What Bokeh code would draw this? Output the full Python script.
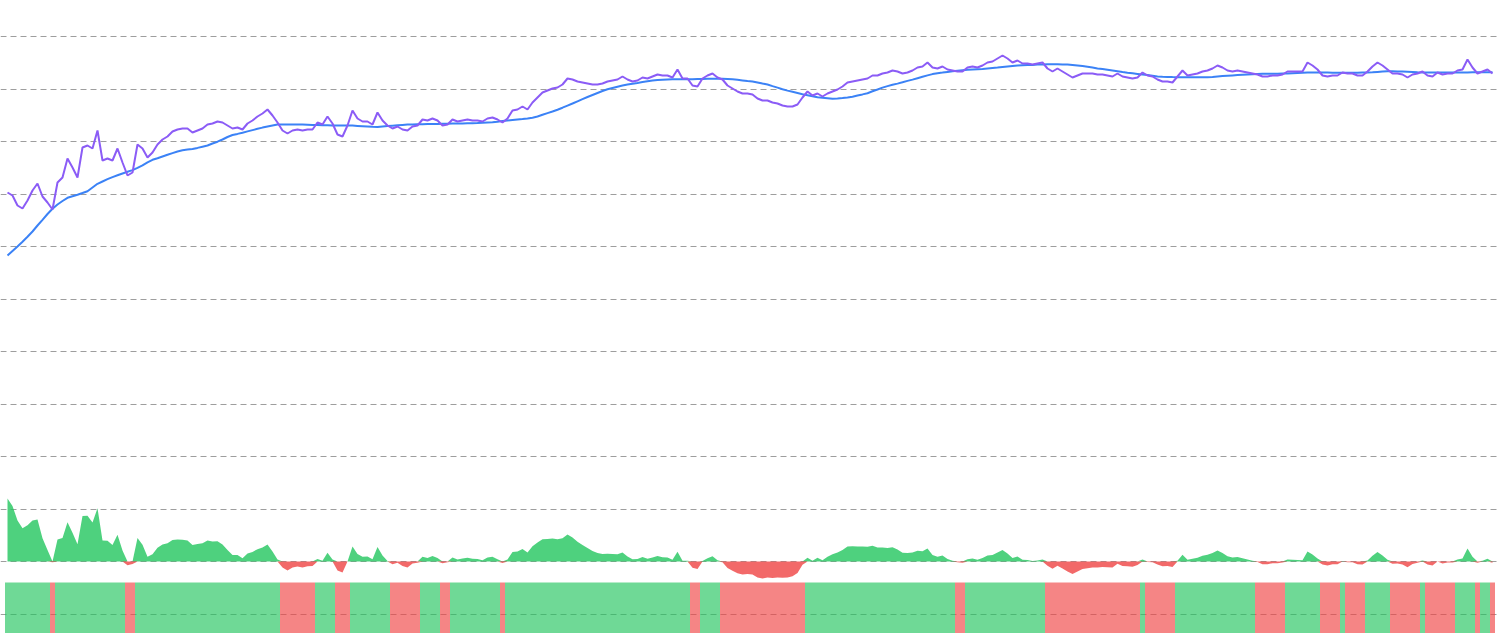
import numpy as np
from bokeh.plotting import figure
from bokeh.models import Range1d, FixedTicker, ColumnDataSource
from bokeh.embed import file_html
from bokeh.resources import INLINE

# ---------------- data (one sample per period) ----------------
PRICE = [
    108, 105, 95, 92, 100, 110, 117, 104, 98, 91,
    118, 123, 142, 133, 123, 153, 155, 152, 170, 140,
    142, 140, 152, 138, 125, 128, 156, 152, 143, 148,
    156, 161, 164, 169, 171, 172, 172, 168, 170, 172,
    176, 177, 179, 178, 175, 172, 173, 171, 177, 180,
    184, 187, 191, 185, 178, 170, 167, 170, 171, 170,
    171, 171, 178, 176, 184, 177, 166, 164, 175, 190,
    182, 179, 179, 176,
    188, 180, 175, 172, 174, 171, 170, 174, 175, 181,
    180, 182, 180, 175, 176, 181, 179, 180, 181, 180,
    180, 179, 182, 183, 181, 178, 182, 190, 191, 194,
    191, 198, 203, 208, 210, 212, 213, 216, 222, 221,
    219, 218, 217, 216, 216, 217, 219, 220, 221, 224,
    221, 219, 220, 223, 222, 224, 226, 225, 225, 223,
    231, 222, 222, 215, 214, 222, 225, 227, 223, 221,
    215, 212, 209, 207, 207,
    206, 202, 200, 200, 198, 197, 195, 194, 194, 196,
    203, 209, 205, 207, 204, 207, 209, 211, 214, 218,
    219, 220, 221, 222, 225, 225, 227, 228, 230, 229,
    227, 228, 230, 233, 234, 238, 233, 232, 234, 231,
    230, 229, 229, 233, 234, 233, 235, 238, 239, 242,
    245, 242, 238, 240, 237, 237, 236, 237, 238, 232,
    229, 232, 229, 226, 223, 225, 227, 227, 227, 226,
    226, 225, 224, 227, 224,
    223, 222, 223, 228, 225, 224, 221, 219, 219, 218,
    224, 230, 225, 226, 227, 229, 230, 232, 235, 233,
    230, 229, 230, 229, 228, 227, 226, 224, 224, 225,
    225, 226, 229, 229, 229, 229, 238, 235, 231, 225,
    224, 225, 225, 228, 227, 227, 225, 225, 229, 234,
    238, 235, 231, 227, 227, 226, 223, 226, 227, 229,
    225, 224, 228, 226, 227, 227, 230, 231, 241, 233,
    227, 229, 231, 227,
]

MA = [
    45, 49.5, 54, 58.7, 63.7, 69, 75, 80.7, 86.5, 91.7,
    96, 99.5, 102.7, 104.3, 105.8, 107.5, 109.3, 113, 116.7, 119,
    121.3, 123.4, 125.2, 127, 128.7, 130.4, 132.6, 135.2, 138.2, 140.7,
    142.3, 144, 145.7, 147.4, 149, 150.2, 150.9, 151.6, 152.6, 153.8,
    155, 157, 158.8, 161, 163.5, 165.5, 166.6, 167.8, 169.1, 170.4,
    171.7, 172.9, 174, 175, 176, 176, 176, 176, 176, 175.9,
    175.8, 175.6, 175.5, 175.3, 175.2, 175, 175, 175, 175, 174.9,
    174.6, 174.3, 174, 173.7,
    173.6, 174, 174.4, 174.8, 175.2, 175.6, 176, 176.1, 176.2, 176.3,
    176.4, 176.5, 176.6, 176.7, 176.8, 176.9, 177, 177.1, 177.2, 177.3,
    177.4, 177.7, 178, 178.3, 178.8, 179.4, 179.9, 180.4, 180.9, 181.4,
    182, 182.8, 184, 185.7, 187.4, 189, 190.8, 192.8, 194.9, 197,
    199.2, 201.4, 203.5, 205.5, 207.5, 209.5, 211.2, 212.5, 213.8, 215,
    216, 216.8, 217.6, 218.5, 219.3, 220, 220.6, 220.8, 221, 221.2,
    221.3, 221.3, 221.3, 221.3, 221.4, 221.5, 221.7, 221.7, 221.7, 221.7,
    221.6, 221.2, 220.8, 220.1, 219.4,
    218.9, 217.9, 216.9, 216, 214.4, 212.9, 211.3, 209.9, 208.7, 207.5,
    206.3, 205.3, 204.3, 203.3, 202.8, 202.3, 201.8, 202.1, 202.5, 203,
    203.8, 205, 206.1, 207.3, 209.2, 211, 212.9, 214.4, 215.7, 216.9,
    218.2, 219.6, 220.9, 222.3, 223.7, 225.1, 226.4, 227.3, 227.9, 228.6,
    229.2, 229.7, 230.2, 230.7, 231, 231.3, 231.6, 232.1, 232.6, 233,
    233.5, 234, 234.5, 235, 235.2, 235.4, 235.6, 235.9, 236, 236.2,
    236.3, 236.2, 236.1, 236, 235.5, 235, 234.4, 233.7, 232.9, 232.1,
    231.4, 230.7, 230, 229.3, 228.5,
    227.8, 227.2, 226.6, 226, 225.4, 224.8, 224.1, 223.8, 223.6, 223.4,
    223.3, 223.3, 223.3, 223.3, 223.3, 223.3, 223.3, 223.6, 224, 224.4,
    224.8, 225.1, 225.4, 225.7, 226, 226.3, 226.6, 226.7, 226.7, 226.7,
    226.7, 226.9, 227.1, 227.3, 227.5, 227.7, 228, 228, 227.9, 227.9,
    227.9, 227.8, 227.8, 227.8, 227.7, 227.7, 227.7, 227.9, 228.1, 228.2,
    228.6, 229, 229.3, 229.2, 229.1, 229, 228.8, 228.6, 228.3, 228.1,
    228, 228, 228, 228, 228, 228, 228.1, 228.1, 228.1, 228.2,
    228.2, 228.2, 228.3, 228.3,
]

assert len(PRICE) == len(MA)

# ---------------- layout constants ----------------
W, H = 1500, 633
X_START, X_END = -1.4, 298.6
Y_TOP, Y_BOTTOM = 300, -333          # main value range shown
GRID_TICKS = [264 - 52.5 * k for k in range(12)]
HIST_ZERO = -261                      # where the difference histogram's 0 sits
BAND_TOP, BAND_BOTTOM = -282, -340

GREEN = "#22c55e"
RED = "#ef4444"
PURPLE = "#8b5cf6"
BLUE = "#3b82f6"

idx = np.arange(len(PRICE))
price = np.array(PRICE, dtype=float)
ma = np.array(MA, dtype=float)
diff = price - ma
pos = np.where(diff > 0, diff, 0.0)
neg = np.where(diff < 0, diff, 0.0)

p = figure(width=W, height=H, output_backend="svg", toolbar_location=None,
           x_range=Range1d(X_START, X_END), y_range=Range1d(Y_BOTTOM, Y_TOP),
           min_border=0, min_border_left=0, min_border_right=0,
           min_border_top=0, min_border_bottom=0)
p.extra_y_ranges = {"hist": Range1d(Y_BOTTOM - HIST_ZERO, Y_TOP - HIST_ZERO)}
p.outline_line_color = None
p.background_fill_color = "white"
p.border_fill_color = "white"
p.xaxis.visible = False
p.yaxis.visible = False
p.xgrid.visible = False
p.ygrid.ticker = FixedTicker(ticks=GRID_TICKS)
p.ygrid.grid_line_color = "#9e9e9e"
p.ygrid.grid_line_dash = "6 4"
p.ygrid.grid_line_width = 1

# difference histogram
p.varea(x=idx, y1=np.zeros(len(idx)), y2=pos, fill_color=GREEN, fill_alpha=0.8,
        y_range_name="hist")
p.varea(x=idx, y1=np.zeros(len(idx)), y2=neg, fill_color=RED, fill_alpha=0.8,
        y_range_name="hist")

# trend band
band_src = ColumnDataSource(dict(
    left=idx - 0.5, right=idx + 0.5,
    color=[GREEN if d > 0 else RED for d in diff],
))
p.quad(left="left", right="right", top=BAND_TOP, bottom=BAND_BOTTOM,
       fill_color="color", fill_alpha=0.65, line_color=None, source=band_src)

# lines
p.line(idx, ma, line_color=BLUE, line_width=2)
p.line(idx, price, line_color=PURPLE, line_width=2)

open("out.html", "w").write(file_html(p, INLINE))
